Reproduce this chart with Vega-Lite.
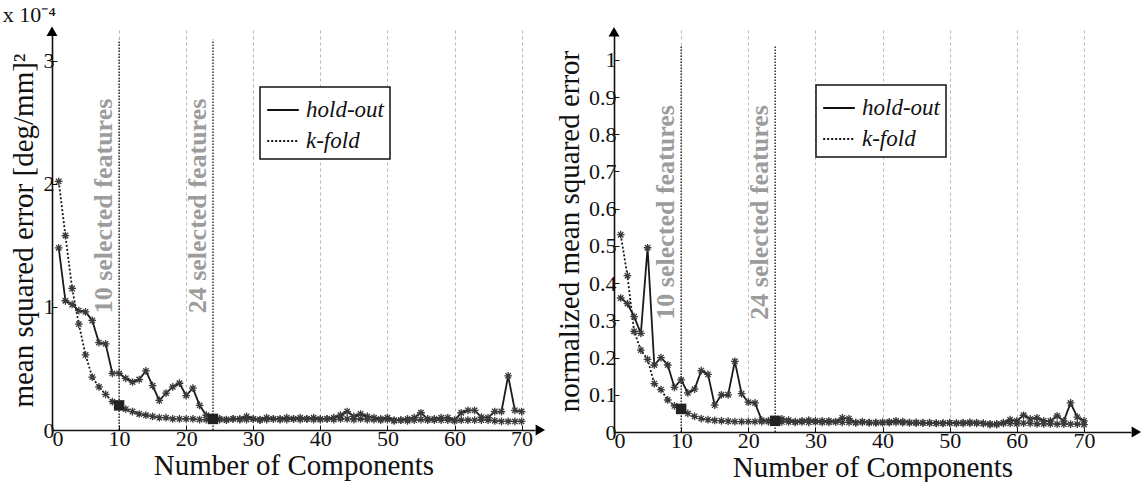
{
  "$schema": "https://vega.github.io/schema/vega-lite/v6.json",
  "padding": {"left": 2, "top": 4, "right": 2, "bottom": 0},
  "background": "white",
  "config": {
    "view": {"stroke": null},
    "font": "Liberation Serif",
    "axis": {
      "labelFont": "Liberation Serif", "titleFont": "Liberation Serif",
      "labelFontSize": 22, "titleFontSize": 29, "titleFontWeight": "normal",
      "labelColor": "#111", "titleColor": "#111",
      "domainColor": "#111", "domainWidth": 1.6,
      "tickColor": "#111", "tickSize": -5, "labelPadding": 3,
      "gridColor": "#b8b8b8", "gridDash": [3, 3], "gridWidth": 1
    },
    "legend": {"strokeWidth": 1.5}
  },
  "datasets": {
    "left": [
      {"n":1,"series":"hold-out","v":1.48},{"n":2,"series":"hold-out","v":1.05},{"n":3,"series":"hold-out","v":1.02},{"n":4,"series":"hold-out","v":0.97},{"n":5,"series":"hold-out","v":0.96},
      {"n":6,"series":"hold-out","v":0.89},{"n":7,"series":"hold-out","v":0.71},{"n":8,"series":"hold-out","v":0.70},{"n":9,"series":"hold-out","v":0.46},{"n":10,"series":"hold-out","v":0.46},
      {"n":11,"series":"hold-out","v":0.42},{"n":12,"series":"hold-out","v":0.39},{"n":13,"series":"hold-out","v":0.41},{"n":14,"series":"hold-out","v":0.48},{"n":15,"series":"hold-out","v":0.36},
      {"n":16,"series":"hold-out","v":0.24},{"n":17,"series":"hold-out","v":0.30},{"n":18,"series":"hold-out","v":0.35},{"n":19,"series":"hold-out","v":0.38},{"n":20,"series":"hold-out","v":0.28},
      {"n":21,"series":"hold-out","v":0.34},{"n":22,"series":"hold-out","v":0.20},{"n":23,"series":"hold-out","v":0.12},{"n":24,"series":"hold-out","v":0.10},{"n":25,"series":"hold-out","v":0.09},
      {"n":26,"series":"hold-out","v":0.08},{"n":27,"series":"hold-out","v":0.09},{"n":28,"series":"hold-out","v":0.09},{"n":29,"series":"hold-out","v":0.11},{"n":30,"series":"hold-out","v":0.09},
      {"n":31,"series":"hold-out","v":0.08},{"n":32,"series":"hold-out","v":0.10},{"n":33,"series":"hold-out","v":0.09},{"n":34,"series":"hold-out","v":0.09},{"n":35,"series":"hold-out","v":0.10},
      {"n":36,"series":"hold-out","v":0.09},{"n":37,"series":"hold-out","v":0.10},{"n":38,"series":"hold-out","v":0.09},{"n":39,"series":"hold-out","v":0.10},{"n":40,"series":"hold-out","v":0.09},
      {"n":41,"series":"hold-out","v":0.09},{"n":42,"series":"hold-out","v":0.10},{"n":43,"series":"hold-out","v":0.12},{"n":44,"series":"hold-out","v":0.15},{"n":45,"series":"hold-out","v":0.11},
      {"n":46,"series":"hold-out","v":0.13},{"n":47,"series":"hold-out","v":0.11},{"n":48,"series":"hold-out","v":0.10},{"n":49,"series":"hold-out","v":0.09},{"n":50,"series":"hold-out","v":0.10},
      {"n":51,"series":"hold-out","v":0.08},{"n":52,"series":"hold-out","v":0.08},{"n":53,"series":"hold-out","v":0.09},{"n":54,"series":"hold-out","v":0.10},{"n":55,"series":"hold-out","v":0.14},
      {"n":56,"series":"hold-out","v":0.09},{"n":57,"series":"hold-out","v":0.09},{"n":58,"series":"hold-out","v":0.10},{"n":59,"series":"hold-out","v":0.10},{"n":60,"series":"hold-out","v":0.08},
      {"n":61,"series":"hold-out","v":0.14},{"n":62,"series":"hold-out","v":0.16},{"n":63,"series":"hold-out","v":0.16},{"n":64,"series":"hold-out","v":0.105},{"n":65,"series":"hold-out","v":0.10},
      {"n":66,"series":"hold-out","v":0.15},{"n":67,"series":"hold-out","v":0.15},{"n":68,"series":"hold-out","v":0.44},{"n":69,"series":"hold-out","v":0.16},{"n":70,"series":"hold-out","v":0.15},
      {"n":1,"series":"k-fold","v":2.02},{"n":2,"series":"k-fold","v":1.58},{"n":3,"series":"k-fold","v":1.15},{"n":4,"series":"k-fold","v":0.86},{"n":5,"series":"k-fold","v":0.61},
      {"n":6,"series":"k-fold","v":0.43},{"n":7,"series":"k-fold","v":0.35},{"n":8,"series":"k-fold","v":0.29},{"n":9,"series":"k-fold","v":0.23},{"n":10,"series":"k-fold","v":0.20},
      {"n":11,"series":"k-fold","v":0.17},{"n":12,"series":"k-fold","v":0.15},{"n":13,"series":"k-fold","v":0.13},{"n":14,"series":"k-fold","v":0.12},{"n":15,"series":"k-fold","v":0.11},
      {"n":16,"series":"k-fold","v":0.10},{"n":17,"series":"k-fold","v":0.10},{"n":18,"series":"k-fold","v":0.09},{"n":19,"series":"k-fold","v":0.09},{"n":20,"series":"k-fold","v":0.09},
      {"n":21,"series":"k-fold","v":0.09},{"n":22,"series":"k-fold","v":0.085},{"n":23,"series":"k-fold","v":0.085},{"n":24,"series":"k-fold","v":0.09},{"n":25,"series":"k-fold","v":0.085},
      {"n":26,"series":"k-fold","v":0.085},{"n":27,"series":"k-fold","v":0.09},{"n":28,"series":"k-fold","v":0.085},{"n":29,"series":"k-fold","v":0.085},{"n":30,"series":"k-fold","v":0.09},
      {"n":31,"series":"k-fold","v":0.085},{"n":32,"series":"k-fold","v":0.085},{"n":33,"series":"k-fold","v":0.09},{"n":34,"series":"k-fold","v":0.085},{"n":35,"series":"k-fold","v":0.085},
      {"n":36,"series":"k-fold","v":0.09},{"n":37,"series":"k-fold","v":0.085},{"n":38,"series":"k-fold","v":0.09},{"n":39,"series":"k-fold","v":0.085},{"n":40,"series":"k-fold","v":0.085},
      {"n":41,"series":"k-fold","v":0.09},{"n":42,"series":"k-fold","v":0.085},{"n":43,"series":"k-fold","v":0.09},{"n":44,"series":"k-fold","v":0.09},{"n":45,"series":"k-fold","v":0.085},
      {"n":46,"series":"k-fold","v":0.09},{"n":47,"series":"k-fold","v":0.085},{"n":48,"series":"k-fold","v":0.085},{"n":49,"series":"k-fold","v":0.08},{"n":50,"series":"k-fold","v":0.085},
      {"n":51,"series":"k-fold","v":0.075},{"n":52,"series":"k-fold","v":0.08},{"n":53,"series":"k-fold","v":0.075},{"n":54,"series":"k-fold","v":0.08},{"n":55,"series":"k-fold","v":0.085},
      {"n":56,"series":"k-fold","v":0.08},{"n":57,"series":"k-fold","v":0.08},{"n":58,"series":"k-fold","v":0.08},{"n":59,"series":"k-fold","v":0.08},{"n":60,"series":"k-fold","v":0.075},
      {"n":61,"series":"k-fold","v":0.08},{"n":62,"series":"k-fold","v":0.08},{"n":63,"series":"k-fold","v":0.08},{"n":64,"series":"k-fold","v":0.08},{"n":65,"series":"k-fold","v":0.08},
      {"n":66,"series":"k-fold","v":0.075},{"n":67,"series":"k-fold","v":0.07},{"n":68,"series":"k-fold","v":0.07},{"n":69,"series":"k-fold","v":0.07},{"n":70,"series":"k-fold","v":0.07}
    ],
    "right": [
      {"n":1,"series":"hold-out","v":0.36},{"n":2,"series":"hold-out","v":0.345},{"n":3,"series":"hold-out","v":0.31},{"n":4,"series":"hold-out","v":0.265},{"n":5,"series":"hold-out","v":0.495},
      {"n":6,"series":"hold-out","v":0.18},{"n":7,"series":"hold-out","v":0.20},{"n":8,"series":"hold-out","v":0.18},{"n":9,"series":"hold-out","v":0.12},{"n":10,"series":"hold-out","v":0.14},
      {"n":11,"series":"hold-out","v":0.105},{"n":12,"series":"hold-out","v":0.115},{"n":13,"series":"hold-out","v":0.165},{"n":14,"series":"hold-out","v":0.155},{"n":15,"series":"hold-out","v":0.072},
      {"n":16,"series":"hold-out","v":0.10},{"n":17,"series":"hold-out","v":0.10},{"n":18,"series":"hold-out","v":0.19},{"n":19,"series":"hold-out","v":0.103},{"n":20,"series":"hold-out","v":0.08},
      {"n":21,"series":"hold-out","v":0.078},{"n":22,"series":"hold-out","v":0.032},{"n":23,"series":"hold-out","v":0.03},{"n":24,"series":"hold-out","v":0.03},{"n":25,"series":"hold-out","v":0.035},
      {"n":26,"series":"hold-out","v":0.032},{"n":27,"series":"hold-out","v":0.028},{"n":28,"series":"hold-out","v":0.03},{"n":29,"series":"hold-out","v":0.032},{"n":30,"series":"hold-out","v":0.03},
      {"n":31,"series":"hold-out","v":0.03},{"n":32,"series":"hold-out","v":0.03},{"n":33,"series":"hold-out","v":0.028},{"n":34,"series":"hold-out","v":0.038},{"n":35,"series":"hold-out","v":0.036},
      {"n":36,"series":"hold-out","v":0.025},{"n":37,"series":"hold-out","v":0.028},{"n":38,"series":"hold-out","v":0.025},{"n":39,"series":"hold-out","v":0.025},{"n":40,"series":"hold-out","v":0.025},
      {"n":41,"series":"hold-out","v":0.027},{"n":42,"series":"hold-out","v":0.03},{"n":43,"series":"hold-out","v":0.028},{"n":44,"series":"hold-out","v":0.025},{"n":45,"series":"hold-out","v":0.026},
      {"n":46,"series":"hold-out","v":0.024},{"n":47,"series":"hold-out","v":0.025},{"n":48,"series":"hold-out","v":0.023},{"n":49,"series":"hold-out","v":0.024},{"n":50,"series":"hold-out","v":0.025},
      {"n":51,"series":"hold-out","v":0.024},{"n":52,"series":"hold-out","v":0.025},{"n":53,"series":"hold-out","v":0.026},{"n":54,"series":"hold-out","v":0.025},{"n":55,"series":"hold-out","v":0.023},
      {"n":56,"series":"hold-out","v":0.02},{"n":57,"series":"hold-out","v":0.02},{"n":58,"series":"hold-out","v":0.025},{"n":59,"series":"hold-out","v":0.033},{"n":60,"series":"hold-out","v":0.03},
      {"n":61,"series":"hold-out","v":0.045},{"n":62,"series":"hold-out","v":0.035},{"n":63,"series":"hold-out","v":0.038},{"n":64,"series":"hold-out","v":0.03},{"n":65,"series":"hold-out","v":0.03},
      {"n":66,"series":"hold-out","v":0.043},{"n":67,"series":"hold-out","v":0.03},{"n":68,"series":"hold-out","v":0.078},{"n":69,"series":"hold-out","v":0.04},{"n":70,"series":"hold-out","v":0.03},
      {"n":1,"series":"k-fold","v":0.53},{"n":2,"series":"k-fold","v":0.42},{"n":3,"series":"k-fold","v":0.27},{"n":4,"series":"k-fold","v":0.22},{"n":5,"series":"k-fold","v":0.195},
      {"n":6,"series":"k-fold","v":0.13},{"n":7,"series":"k-fold","v":0.114},{"n":8,"series":"k-fold","v":0.086},{"n":9,"series":"k-fold","v":0.07},{"n":10,"series":"k-fold","v":0.062},
      {"n":11,"series":"k-fold","v":0.05},{"n":12,"series":"k-fold","v":0.042},{"n":13,"series":"k-fold","v":0.036},{"n":14,"series":"k-fold","v":0.033},{"n":15,"series":"k-fold","v":0.031},
      {"n":16,"series":"k-fold","v":0.03},{"n":17,"series":"k-fold","v":0.029},{"n":18,"series":"k-fold","v":0.028},{"n":19,"series":"k-fold","v":0.028},{"n":20,"series":"k-fold","v":0.028},
      {"n":21,"series":"k-fold","v":0.028},{"n":22,"series":"k-fold","v":0.028},{"n":23,"series":"k-fold","v":0.028},{"n":24,"series":"k-fold","v":0.03},{"n":25,"series":"k-fold","v":0.027},
      {"n":26,"series":"k-fold","v":0.027},{"n":27,"series":"k-fold","v":0.026},{"n":28,"series":"k-fold","v":0.027},{"n":29,"series":"k-fold","v":0.026},{"n":30,"series":"k-fold","v":0.027},
      {"n":31,"series":"k-fold","v":0.026},{"n":32,"series":"k-fold","v":0.026},{"n":33,"series":"k-fold","v":0.027},{"n":34,"series":"k-fold","v":0.026},{"n":35,"series":"k-fold","v":0.026},
      {"n":36,"series":"k-fold","v":0.025},{"n":37,"series":"k-fold","v":0.026},{"n":38,"series":"k-fold","v":0.025},{"n":39,"series":"k-fold","v":0.025},{"n":40,"series":"k-fold","v":0.026},
      {"n":41,"series":"k-fold","v":0.025},{"n":42,"series":"k-fold","v":0.026},{"n":43,"series":"k-fold","v":0.025},{"n":44,"series":"k-fold","v":0.025},{"n":45,"series":"k-fold","v":0.024},
      {"n":46,"series":"k-fold","v":0.025},{"n":47,"series":"k-fold","v":0.024},{"n":48,"series":"k-fold","v":0.024},{"n":49,"series":"k-fold","v":0.023},{"n":50,"series":"k-fold","v":0.024},
      {"n":51,"series":"k-fold","v":0.023},{"n":52,"series":"k-fold","v":0.023},{"n":53,"series":"k-fold","v":0.024},{"n":54,"series":"k-fold","v":0.023},{"n":55,"series":"k-fold","v":0.023},
      {"n":56,"series":"k-fold","v":0.022},{"n":57,"series":"k-fold","v":0.022},{"n":58,"series":"k-fold","v":0.023},{"n":59,"series":"k-fold","v":0.023},{"n":60,"series":"k-fold","v":0.022},
      {"n":61,"series":"k-fold","v":0.024},{"n":62,"series":"k-fold","v":0.023},{"n":63,"series":"k-fold","v":0.022},{"n":64,"series":"k-fold","v":0.022},{"n":65,"series":"k-fold","v":0.022},
      {"n":66,"series":"k-fold","v":0.021},{"n":67,"series":"k-fold","v":0.021},{"n":68,"series":"k-fold","v":0.021},{"n":69,"series":"k-fold","v":0.021},{"n":70,"series":"k-fold","v":0.02}
    ],
    "marks": [
      {"n":10,"label":"10 selected features"},
      {"n":24,"label":"24 selected features"}
    ],
    "one": [{"k": 1}]
  },
  "spacing": 9,
  "resolve": {"scale": {"strokeDash": "independent"}, "legend": {"strokeDash": "independent"}},
  "hconcat": [
    {
      "width": 483, "height": 400,
      "layer": [
        {
          "data": {"name": "marks"},
          "mark": {"type": "rule", "color": "#111", "strokeDash": [1.5, 1.5], "strokeWidth": 1.3},
          "encoding": {
            "x": {"field": "n", "type": "quantitative", "scale": {"domain": [0, 72], "nice": false},
                  "axis": {"values": [0,10,20,30,40,50,60,70], "title": "Number of Components", "titlePadding": 2}},
            "y": {"datum": 0, "type": "quantitative", "scale": {"domain": [0, 3.25], "nice": false},
                  "axis": {"values": [0,1,2,3], "format": "~g", "title": "mean squared error [deg/mm]²", "titlePadding": 5}},
            "y2": {"datum": 3.17}
          }
        },
        {
          "data": {"name": "marks"},
          "mark": {"type": "text", "angle": 270, "align": "center", "baseline": "bottom", "dy": -2, "font": "Liberation Serif", "fontSize": 26, "fontWeight": "bold", "color": "#9c9c9c"},
          "encoding": {
            "x": {"field": "n", "type": "quantitative"},
            "y": {"datum": 1.82, "type": "quantitative"},
            "text": {"field": "label"}
          }
        },
        {
          "data": {"name": "left"},
          "mark": {"type": "line", "color": "#1a1a1a", "strokeWidth": 1.8},
          "encoding": {
            "x": {"field": "n", "type": "quantitative"},
            "y": {"field": "v", "type": "quantitative"},
            "strokeDash": {"field": "series", "type": "nominal",
              "scale": {"domain": ["hold-out", "k-fold"], "range": [[1, 0], [2, 2]]},
              "legend": {"title": null, "orient": "none", "legendX": 208, "legendY": 57,
                "symbolType": "stroke", "symbolSize": 1000, "symbolStrokeWidth": 2, "symbolStrokeColor": "#111",
                "labelFont": "Liberation Serif", "labelFontStyle": "italic", "labelFontSize": 23, "labelColor": "#111",
                "strokeColor": "#111", "fillColor": "white", "padding": 6, "rowPadding": 2, "labelOffset": 6}}
          }
        },
        {
          "data": {"name": "left"},
          "mark": {"type": "point", "shape": "M-1,0L1,0M0,-1L0,1M-0.7,-0.7L0.7,0.7M-0.7,0.7L0.7,-0.7", "filled": false, "size": 60, "stroke": "#3a3a3a", "strokeWidth": 1.3, "opacity": 1},
          "encoding": {
            "x": {"field": "n", "type": "quantitative"},
            "y": {"field": "v", "type": "quantitative"}
          }
        },
        {
          "data": {"name": "left"},
          "transform": [{"filter": {"and": [{"field": "series", "equal": "k-fold"}, {"field": "n", "oneOf": [10, 24]}]}}],
          "mark": {"type": "point", "shape": "square", "filled": true, "size": 110, "color": "#222", "opacity": 1},
          "encoding": {
            "x": {"field": "n", "type": "quantitative"},
            "y": {"field": "v", "type": "quantitative"}
          }
        },
        {
          "data": {"name": "one"},
          "mark": {"type": "point", "shape": "triangle-right", "filled": true, "size": 120, "color": "#000", "opacity": 1},
          "encoding": {"x": {"datum": 72.8}, "y": {"datum": 0}}
        },
        {
          "data": {"name": "one"},
          "mark": {"type": "point", "shape": "triangle-up", "filled": true, "size": 120, "color": "#000", "opacity": 1},
          "encoding": {"x": {"datum": 0}, "y": {"datum": 3.24}}
        },
        {
          "data": {"name": "one"},
          "mark": {"type": "text", "text": "x 10⁻⁴", "align": "right", "baseline": "bottom", "dx": 4, "dy": -3, "font": "Liberation Serif", "fontSize": 22, "color": "#111"},
          "encoding": {"x": {"datum": 0}, "y": {"datum": 3.25}}
        }
      ]
    },
    {
      "width": 517, "height": 402,
      "layer": [
        {
          "data": {"name": "marks"},
          "mark": {"type": "rule", "color": "#111", "strokeDash": [1.5, 1.5], "strokeWidth": 1.3},
          "encoding": {
            "x": {"field": "n", "type": "quantitative", "scale": {"domain": [0, 77], "nice": false},
                  "axis": {"values": [0,10,20,30,40,50,60,70], "title": "Number of Components", "titlePadding": 2}},
            "y": {"datum": 0, "type": "quantitative", "scale": {"domain": [0, 1.08], "nice": false},
                  "axis": {"values": [0,0.1,0.2,0.3,0.4,0.5,0.6,0.7,0.8,0.9,1], "format": "~g", "title": "normalized mean squared error", "titlePadding": 4}},
            "y2": {"datum": 1.04}
          }
        },
        {
          "data": {"name": "marks"},
          "mark": {"type": "text", "angle": 270, "align": "center", "baseline": "bottom", "dy": -2, "font": "Liberation Serif", "fontSize": 26, "fontWeight": "bold", "color": "#9c9c9c"},
          "encoding": {
            "x": {"field": "n", "type": "quantitative"},
            "y": {"datum": 0.59, "type": "quantitative"},
            "text": {"field": "label"}
          }
        },
        {
          "data": {"name": "right"},
          "mark": {"type": "line", "color": "#1a1a1a", "strokeWidth": 1.8},
          "encoding": {
            "x": {"field": "n", "type": "quantitative"},
            "y": {"field": "v", "type": "quantitative"},
            "strokeDash": {"field": "series", "type": "nominal",
              "scale": {"domain": ["hold-out", "k-fold"], "range": [[1, 0], [2, 2]]},
              "legend": {"title": null, "orient": "none", "legendX": 202, "legendY": 55,
                "symbolType": "stroke", "symbolSize": 1000, "symbolStrokeWidth": 2, "symbolStrokeColor": "#111",
                "labelFont": "Liberation Serif", "labelFontStyle": "italic", "labelFontSize": 23, "labelColor": "#111",
                "strokeColor": "#111", "fillColor": "white", "padding": 6, "rowPadding": 2, "labelOffset": 6}}
          }
        },
        {
          "data": {"name": "right"},
          "mark": {"type": "point", "shape": "M-1,0L1,0M0,-1L0,1M-0.7,-0.7L0.7,0.7M-0.7,0.7L0.7,-0.7", "filled": false, "size": 60, "stroke": "#3a3a3a", "strokeWidth": 1.3, "opacity": 1},
          "encoding": {
            "x": {"field": "n", "type": "quantitative"},
            "y": {"field": "v", "type": "quantitative"}
          }
        },
        {
          "data": {"name": "right"},
          "transform": [{"filter": {"and": [{"field": "series", "equal": "k-fold"}, {"field": "n", "oneOf": [10, 24]}]}}],
          "mark": {"type": "point", "shape": "square", "filled": true, "size": 110, "color": "#222", "opacity": 1},
          "encoding": {
            "x": {"field": "n", "type": "quantitative"},
            "y": {"field": "v", "type": "quantitative"}
          }
        },
        {
          "data": {"name": "one"},
          "mark": {"type": "point", "shape": "triangle-right", "filled": true, "size": 120, "color": "#000", "opacity": 1},
          "encoding": {"x": {"datum": 77.8}, "y": {"datum": 0}}
        },
        {
          "data": {"name": "one"},
          "mark": {"type": "point", "shape": "triangle-up", "filled": true, "size": 120, "color": "#000", "opacity": 1},
          "encoding": {"x": {"datum": 0}, "y": {"datum": 1.075}}
        }
      ]
    }
  ]
}
